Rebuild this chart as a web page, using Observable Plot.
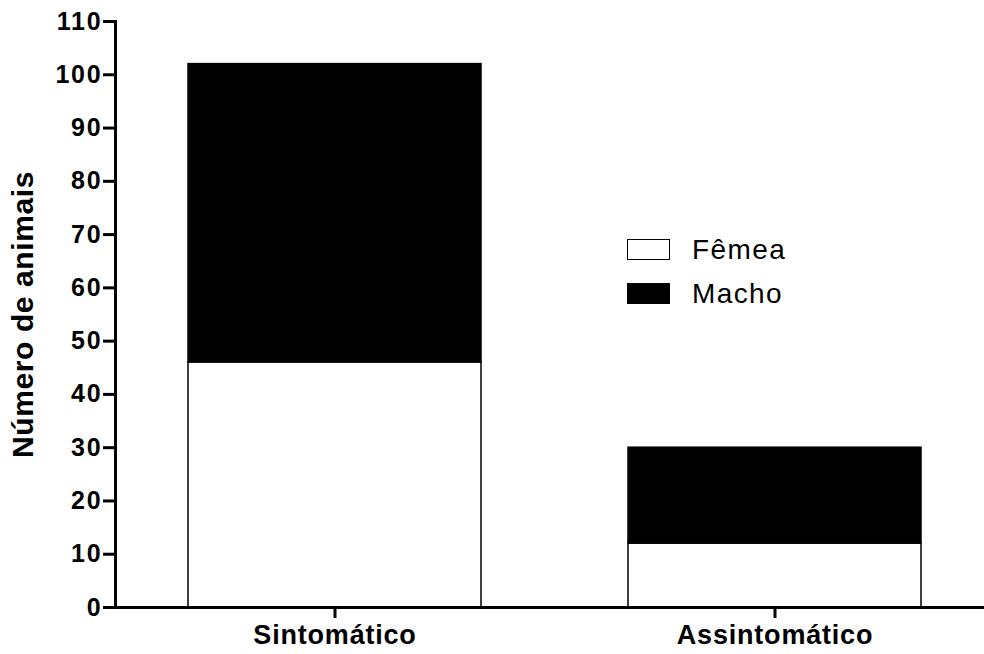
<!DOCTYPE html>
<html>
<head>
<meta charset="utf-8">
<script src="https://cdn.jsdelivr.net/npm/d3@7"></script>
<script src="https://cdn.jsdelivr.net/npm/@observablehq/plot@0.6"></script>
<style>
  html, body { margin: 0; padding: 0; background: #fff; }
  #wrap { position: relative; width: 984px; height: 654px; font-family: Arial, "Liberation Sans", sans-serif; }
  #wrap svg { display: block; }
  .legend { position: absolute; left: 627px; top: 238px; font-size: 28px; letter-spacing: 1.4px; color: #000; }
  .legend .row { display: flex; align-items: center; height: 23px; margin-bottom: 21px; }
  .legend .sw { width: 41px; height: 19px; border: 1.5px solid #000; margin-right: 22px; box-sizing: content-box; }
  .ytick text { letter-spacing: 1.8px; }
  .xtick text { letter-spacing: 0.8px; }
  .ytitle text { letter-spacing: 0.6px; }
</style>
</head>
<body>
<div id="wrap"></div>
<script>
// Animal counts by clinical group, split by sex
const groups = ["Sintomático", "Assintomático"];
const sexes = ["Fêmea", "Macho"];
const femea = [46, 12];
const macho = [56, 18];
const yTicks = [0, 10, 20, 30, 40, 50, 60, 70, 80, 90, 100, 110];
const sexColors = ["#ffffff", "#000000"];

const rows = [];
groups.forEach((g, i) => {
  rows.push({group: g, sex: sexes[0], n: femea[i]});
  rows.push({group: g, sex: sexes[1], n: macho[i]});
});

const chart = Plot.plot({
  width: 984,
  height: 654,
  marginLeft: 115,
  marginRight: 0,
  marginTop: 21,
  marginBottom: 47,
  style: {fontFamily: 'Arial, "Liberation Sans", sans-serif', color: "#000", background: "#fff"},
  x: {domain: groups, paddingInner: 0.334, paddingOuter: 0.1545, align: 0.537, label: null},
  y: {domain: [0, 110], label: null},
  color: {domain: sexes, range: sexColors},
  marks: [
    Plot.barY(rows, Plot.stackY({order: sexes}, {x: "group", y: "n", fill: "sex", stroke: "#000", strokeWidth: 1.5})),
    Plot.ruleY([0], {stroke: "#000", strokeWidth: 3}),
    Plot.frame({anchor: "left", stroke: "#000", strokeWidth: 3}),
    Plot.axisY({ticks: yTicks, tickSize: 12, tickPadding: 1, strokeWidth: 3, className: "ytick",
      fontSize: 25, fontWeight: "bold", label: null}),
    Plot.axisX({tickSize: 11, tickPadding: 6, strokeWidth: 3, className: "xtick",
      fontSize: 27, fontWeight: "bold", label: null}),
    Plot.text(["Número de animais"], {frameAnchor: "left", dx: -92, rotate: -90, textAnchor: "middle",
      className: "ytitle", fontSize: 30, fontWeight: "bold", fill: "#000"})
  ]
});

const wrap = document.getElementById("wrap");
wrap.appendChild(chart);

// Legend for the sex split
const legend = document.createElement("div");
legend.className = "legend";
sexes.forEach((s, i) => {
  const row = document.createElement("div");
  row.className = "row";
  const sw = document.createElement("span");
  sw.className = "sw";
  sw.style.background = sexColors[i];
  const label = document.createElement("span");
  label.textContent = s;
  row.appendChild(sw);
  row.appendChild(label);
  legend.appendChild(row);
});
wrap.appendChild(legend);
</script>
</body>
</html>
